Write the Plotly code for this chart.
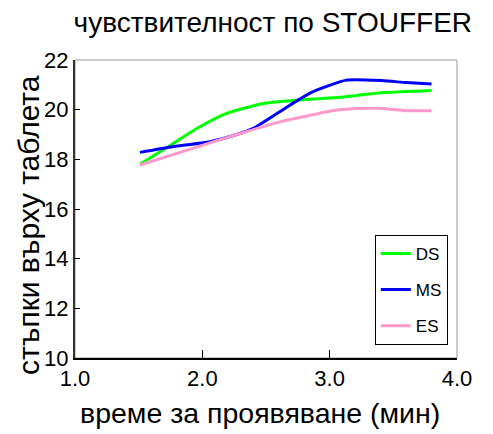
import plotly.graph_objects as go

# --- data ---
ds_x = [1.51, 1.75, 1.96, 2.19, 2.48, 2.69, 3.06, 3.41, 3.80]
ds_y = [17.80, 18.57, 19.25, 19.85, 20.25, 20.36, 20.49, 20.68, 20.77]

ms_x = [1.51, 1.75, 2.06, 2.27, 2.40, 2.69, 2.85, 3.13, 3.41, 3.60, 3.80]
ms_y = [18.28, 18.50, 18.71, 19.00, 19.25, 20.19, 20.68, 21.19, 21.17, 21.09, 21.03]

es_x = [1.51, 1.90, 2.27, 2.61, 2.85, 3.04, 3.24, 3.41, 3.60, 3.80]
es_y = [17.77, 18.40, 19.00, 19.51, 19.78, 19.98, 20.05, 20.05, 19.96, 19.96]

series_names = ["DS", "MS", "ES"]
series_colors = ["#00FF00", "#0000FF", "#FF99CC"]

x_ticks = [1.0, 2.0, 3.0, 4.0]
x_tick_labels = ["1.0", "2.0", "3.0", "4.0"]
y_ticks = [10, 12, 14, 16, 18, 20, 22]

title_text = "чувствителност по STOUFFER"
x_title = "време за проявяване (мин)"
y_title = "стъпки върху таблета"

regular = "Liberation Sans, Arial, sans-serif"

fig = go.Figure()
for name, color, xs, ys in zip(series_names, series_colors,
                               [ds_x, ms_x, es_x], [ds_y, ms_y, es_y]):
    fig.add_trace(go.Scatter(x=xs, y=ys, mode="lines", name=name, legendgroup=name,
                             line=dict(color=color, width=3, shape="spline", smoothing=0.5)))

# page body has an 8px margin, so the figure is sized/margined to compensate
fig.update_layout(
    width=485, height=426,
    margin=dict(l=67, r=36, t=52, b=76, autoexpand=False),
    paper_bgcolor="white", plot_bgcolor="white",
    title=dict(text=title_text, x=0.546, xanchor="center", y=0.967, yanchor="middle",
               font=dict(family=regular, size=28, color="black")),
    showlegend=True,
    legend=dict(x=0.976, y=0.044, xanchor="right", yanchor="bottom",
                bgcolor="white", bordercolor="black", borderwidth=1,
                font=dict(family=regular, size=17, color="black"),
                itemwidth=30, traceorder="grouped", tracegroupgap=11),
    shapes=[dict(type="rect", xref="x domain", yref="y domain", x0=0, x1=1, y0=0, y1=1,
                 line=dict(color="#999999", width=1), layer="below")],
    annotations=[
        dict(text=x_title, xref="paper", yref="paper", x=0.484, y=-0.185,
             xanchor="center", yanchor="middle", showarrow=False,
             font=dict(family=regular, size=28.5, color="black")),
        dict(text=y_title, xref="paper", yref="paper", x=-0.123, y=0.446,
             xanchor="center", yanchor="middle", showarrow=False, textangle=-90,
             font=dict(family=regular, size=30, color="black")),
    ],
)

fig.update_xaxes(range=[1.0, 4.0], tickvals=x_ticks, ticktext=x_tick_labels, automargin=False,
                 showgrid=False, zeroline=False, showline=True, linecolor="black", linewidth=2,
                 ticks="inside", ticklen=8, tickcolor="black", tickwidth=1,
                 tickfont=dict(family=regular, size=22, color="black"))
fig.update_yaxes(range=[10, 22], tickvals=y_ticks, automargin=False,
                 showgrid=False, zeroline=False, showline=True, linecolor="#333333", linewidth=2,
                 ticks="inside", ticklen=5, tickcolor="black", tickwidth=1,
                 tickfont=dict(family=regular, size=22, color="black"))

fig.write_html("out.html")
